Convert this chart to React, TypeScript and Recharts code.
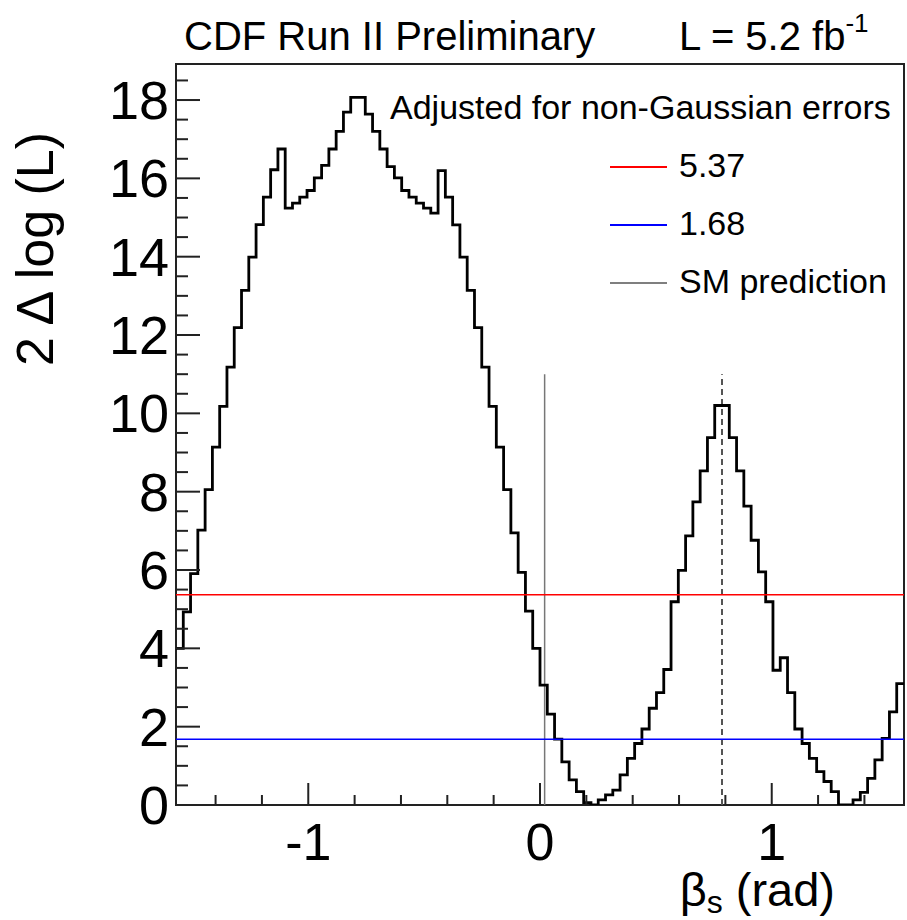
import React from "react";
import {
  ComposedChart,
  Line,
  XAxis,
  YAxis,
  ReferenceLine,
  ReferenceArea,
} from "recharts";

const FONT = '"Liberation Sans", Arial, Helvetica, sans-serif';

// histogram range: beta_s from -pi/2 to pi/2, 100 bins
const BETA_MIN = -Math.PI / 2;
const BETA_MAX = Math.PI / 2;
const Y_MAX = 18.92;

// 2 delta log(L) per bin (left to right)
const dllValues = [
  4.0, 4.93, 5.91, 7.02, 8.05, 9.14, 10.18, 11.18, 12.19, 13.14,
  13.99, 14.82, 15.52, 16.22, 16.75, 15.24, 15.37, 15.52, 15.69, 16.01,
  16.33, 16.75, 17.2, 17.69, 18.07, 18.07, 17.64, 17.2, 16.75, 16.3,
  16.01, 15.69, 15.52, 15.37, 15.24, 15.11, 16.2, 15.52, 14.81, 13.99,
  13.14, 12.19, 11.18, 10.18, 9.14, 8.05, 6.95, 5.94, 4.95, 4.0,
  3.06, 2.32, 1.68, 1.1, 0.64, 0.34, 0.06, 0.0, 0.13, 0.26,
  0.38, 0.77, 1.19, 1.57, 1.94, 2.47, 2.87, 3.46, 5.19, 5.99,
  6.87, 7.74, 8.53, 9.38, 10.2, 10.2, 9.38, 8.53, 7.63, 6.76,
  5.95, 5.19, 3.44, 3.76, 2.87, 1.94, 1.57, 1.19, 0.85, 0.6,
  0.34, 0.0, 0.0, 0.13, 0.32, 0.68, 1.15, 1.7, 2.38, 3.1,
];

// confidence levels and markers
const cl95 = 5.37;
const cl68 = 1.68;
const smBeta = 0.02;
const smTop = 11;
const symBeta = Math.PI / 4;

const xTicks = [-1.4, -1.2, -1, -0.8, -0.6, -0.4, -0.2, 0, 0.2, 0.4, 0.6, 0.8, 1, 1.2, 1.4];
const yTicks = [
  0, 0.5, 1, 1.5, 2, 2.5, 3, 3.5, 4, 4.5, 5, 5.5, 6, 6.5, 7, 7.5, 8, 8.5, 9, 9.5,
  10, 10.5, 11, 11.5, 12, 12.5, 13, 13.5, 14, 14.5, 15, 15.5, 16, 16.5, 17, 17.5, 18, 18.5,
];

const binWidth = (BETA_MAX - BETA_MIN) / dllValues.length;
const histData = dllValues.map((v, i) => ({ beta: BETA_MIN + i * binWidth, dll: v }));
histData.push({ beta: BETA_MAX, dll: dllValues[dllValues.length - 1] });

const YTick = (props: any) => {
  const { x, y, payload } = props;
  const v = payload.value;
  const major = Math.abs(v / 2 - Math.round(v / 2)) < 1e-6;
  return (
    <g>
      <line x1={x} y1={y} x2={x + (major ? 24 : 12)} y2={y} stroke="#222" strokeWidth={2} />
      {major && (
        <text x={x - 7} y={y + 19} textAnchor="end" fontSize={54} fontFamily={FONT} fill="#000">
          {v}
        </text>
      )}
    </g>
  );
};

const XTick = (props: any) => {
  const { x, y, payload } = props;
  const v = payload.value;
  const major = Math.abs(v - Math.round(v)) < 1e-6;
  return (
    <g>
      <line x1={x} y1={y} x2={x} y2={y - (major ? 22 : 10)} stroke="#222" strokeWidth={2} />
      {major && (
        <text x={x} y={y + 55} textAnchor="middle" fontSize={52} fontFamily={FONT} fill="#000">
          {Math.round(v)}
        </text>
      )}
    </g>
  );
};

const App: React.FC = () => {
  return (
    <div style={{ position: "absolute", left: 0, top: 0, width: 907, height: 920, background: "#fff" }}>
      <ComposedChart
        width={907}
        height={920}
        data={histData}
        margin={{ top: 64, right: 3, bottom: 0, left: 0 }}
      >
        <XAxis
          dataKey="beta"
          type="number"
          domain={[BETA_MIN, BETA_MAX]}
          ticks={xTicks}
          interval={0}
          height={115}
          axisLine={false}
          tickLine={false}
          tickSize={0}
          tickMargin={0}
          tick={<XTick />}
          allowDataOverflow
        />
        <YAxis
          type="number"
          domain={[0, Y_MAX]}
          ticks={yTicks}
          interval={0}
          width={176}
          axisLine={false}
          tickLine={false}
          tickSize={0}
          tickMargin={0}
          tick={<YTick />}
          allowDataOverflow
        />
        <ReferenceArea
          x1={BETA_MIN}
          x2={BETA_MAX}
          y1={0}
          y2={Y_MAX}
          fill="none"
          fillOpacity={0}
          stroke="#222"
          strokeWidth={2}
        />
        <ReferenceLine
          segment={[{ x: smBeta, y: 0 }, { x: smBeta, y: smTop }]}
          stroke="#777"
          strokeWidth={1.5}
        />
        <ReferenceLine
          segment={[{ x: symBeta, y: 0 }, { x: symBeta, y: smTop }]}
          stroke="#555"
          strokeWidth={2}
          strokeDasharray="6 4"
        />
        <Line
          type="stepAfter"
          dataKey="dll"
          stroke="#000"
          strokeWidth={2.8}
          dot={false}
          activeDot={false}
          isAnimationActive={false}
        />
        <ReferenceLine y={cl95} stroke="#ff0000" strokeWidth={1.5} />
        <ReferenceLine y={cl68} stroke="#0000ff" strokeWidth={1.5} />
      </ComposedChart>

      <svg
        width={907}
        height={920}
        style={{ position: "absolute", left: 0, top: 0, pointerEvents: "none" }}
        fontFamily={FONT}
      >
        <text x={184} y={50} fontSize={40} fill="#000">CDF Run II Preliminary</text>
        <text x={679} y={50} fontSize={40} fill="#000">
          L = 5.2 fb
          <tspan fontSize={26} dy={-18}>-1</tspan>
        </text>

        <text transform="translate(53, 249) rotate(-90)" textAnchor="middle" fontSize={52} fill="#000">
          2 Δ log (L)
        </text>
        <text x={835} y={906} textAnchor="end" fontSize={47} fill="#000">
          β<tspan fontSize={32} dy={7}>s</tspan>
          <tspan dy={-7}> (rad)</tspan>
        </text>

        <text x={390} y={119} fontSize={34} fill="#000">Adjusted for non-Gaussian errors</text>
        <line x1={610} x2={667} y1={167} y2={167} stroke="#ff0000" strokeWidth={2} />
        <text x={679} y={177} fontSize={34} fill="#000">5.37</text>
        <line x1={610} x2={667} y1={225} y2={225} stroke="#0000ff" strokeWidth={2} />
        <text x={679} y={235} fontSize={34} fill="#000">1.68</text>
        <line x1={610} x2={667} y1={283} y2={283} stroke="#000" strokeWidth={1.2} />
        <text x={679} y={293} fontSize={34} fill="#000">SM prediction</text>
      </svg>
    </div>
  );
};

export default App;
